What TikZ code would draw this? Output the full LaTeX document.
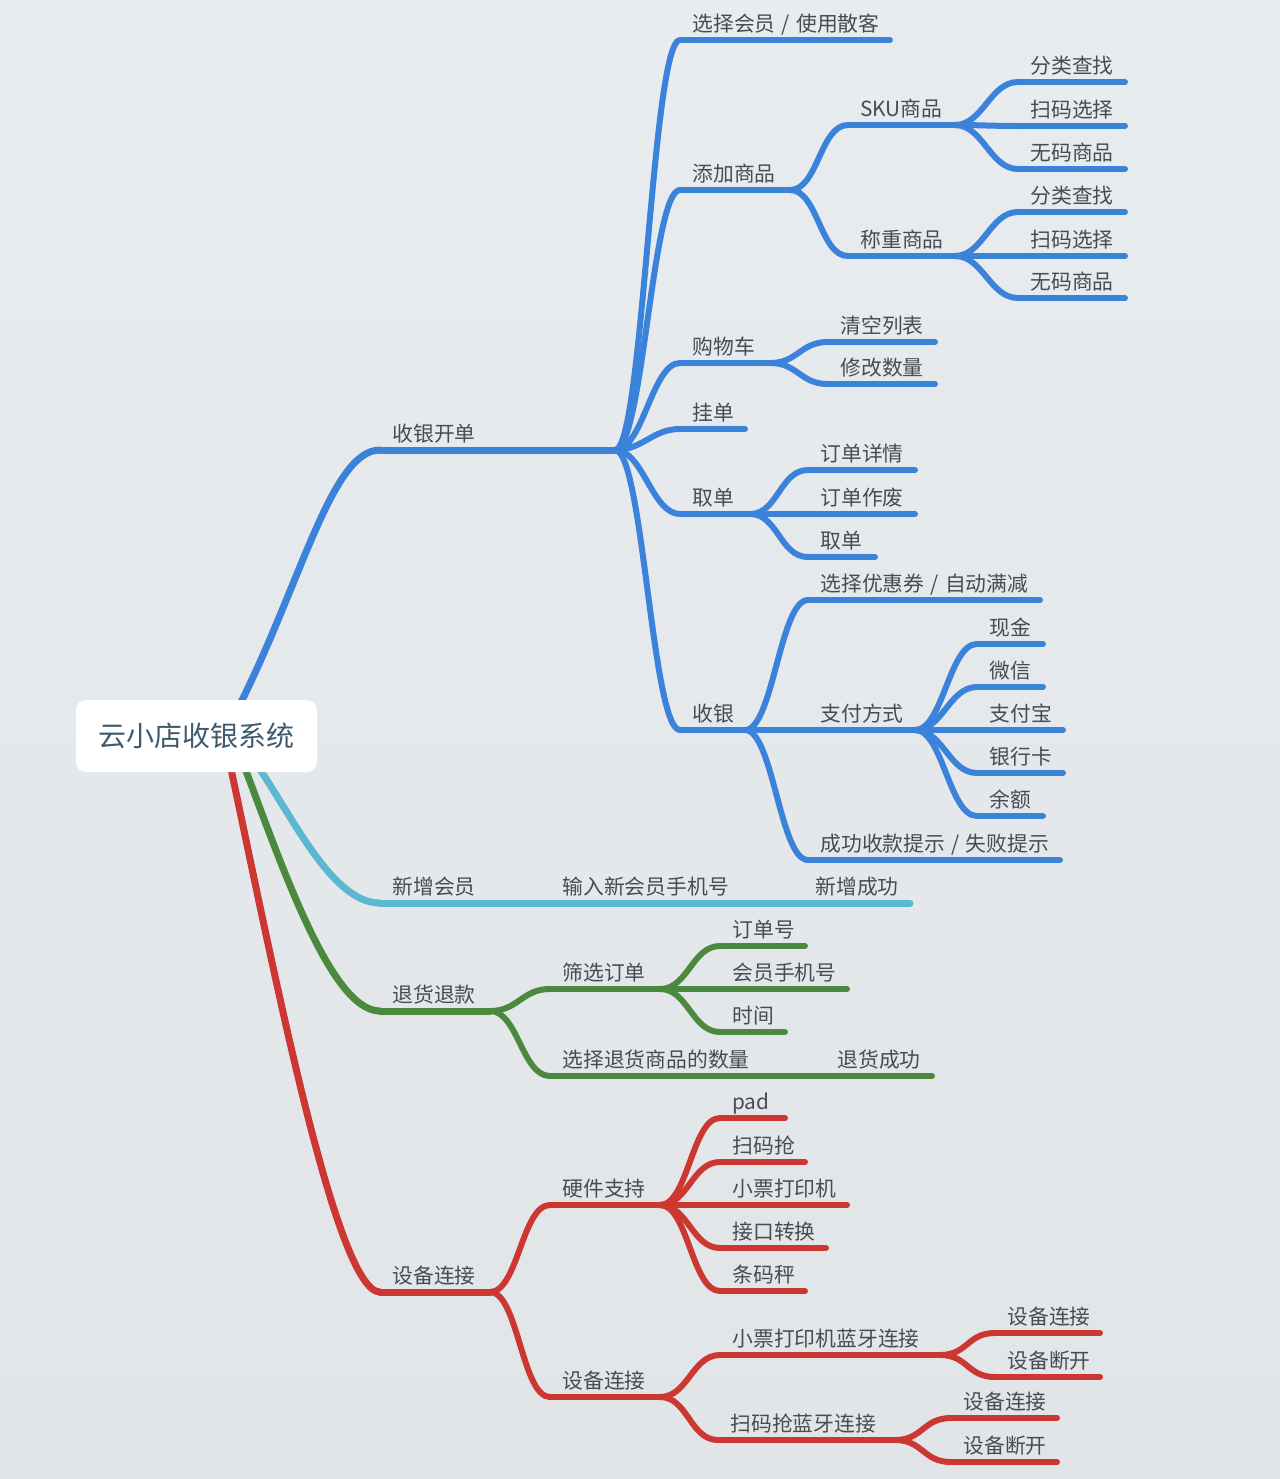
\documentclass[tikz,border=0pt]{standalone}
\usepackage{fontspec}
\setmainfont{Noto Sans CJK SC}
\usetikzlibrary{calc}
\definecolor{bgtop}{HTML}{E9ECEF}
\definecolor{bgbot}{HTML}{E2E5E8}
\definecolor{cblue}{HTML}{3B83DA}
\definecolor{clight}{HTML}{5AB8D2}
\definecolor{cgreen}{HTML}{4B8A3E}
\definecolor{cred}{HTML}{CC3732}
\definecolor{txt}{HTML}{474C52}
\definecolor{roottxt}{HTML}{3E5B6E}
\tikzset{
  lbl/.style={inner sep=0pt, text=txt, font=\fontsize{10.4}{12}\selectfont, anchor=base west},
  bl/.style={draw=cblue, line width=3pt},
  bl1/.style={draw=cblue, line width=3.5pt},
  lb1/.style={draw=clight, line width=3.5pt},
  gr/.style={draw=cgreen, line width=3pt},
  gr1/.style={draw=cgreen, line width=3.5pt},
  rd/.style={draw=cred, line width=3pt},
  rd1/.style={draw=cred, line width=3.5pt},
  rootbox/.style={fill=white, rounded corners=5pt, minimum width=120.5pt, minimum height=36pt, inner sep=0pt, text=roottxt, font=\fontsize{14}{16}\selectfont}
}
\newcommand\topic[6]{%
  \coordinate (#1s) at (#2,#4);
  \coordinate (#1e) at (#3,#4);
  \draw[#6] (#1s) -- (#1e);
  \node[lbl] (#1) at ($(#1s)+(12,-9)$) {#5};}
\newcommand\link[3]{\draw[#3] (#1e) .. controls +(28,0) and +(-28,0) .. (#2s);}
\newcommand\myslash{\hspace{0.3em}/\hspace{0.3em}}
\begin{document}
\begin{tikzpicture}[x=0.5pt,y=-0.5pt,line cap=round,line join=round]
\shade[top color=bgtop, bottom color=bgbot] (0,0) rectangle (1280,1479);
\useasboundingbox (0,0) rectangle (1280,1479);

% root connector starts
\coordinate (R1) at (232,720);
\coordinate (R2) at (250,755);
\coordinate (R3) at (240,755);
\coordinate (R4) at (228,755);

% level 1
\topic{A}{380}{615}{450}{收银开单}{bl1}
\topic{B}{380}{550}{903}{新增会员}{lb1}
\topic{B2}{550}{803}{903}{输入新会员手机号}{lb1}
\topic{B3}{803}{910}{903}{新增成功}{lb1}
\topic{C}{380}{490}{1011}{退货退款}{gr1}
\topic{D}{380}{490}{1292}{设备连接}{rd1}

\draw[bl1] (R1) .. controls (300,590) and (330,450) .. (As);
\draw[lb1] (R2) .. controls (290,810) and (330,903) .. (Bs);
\draw[gr1] (R3) .. controls (280,860) and (330,1011) .. (Cs);
\draw[rd1] (R4) .. controls (270,950) and (335,1292) .. (Ds);
\draw[lb1] (Be) -- (B2s);
\draw[lb1] (B2e) -- (B3s);

% 收银开单
\topic{A1}{680}{890}{40}{选择会员\myslash 使用散客}{bl}
\topic{A2}{680}{790}{190}{添加商品}{bl}
\topic{A21}{848}{955}{125}{SKU商品}{bl}
\topic{A211}{1018}{1125}{82}{分类查找}{bl}
\topic{A212}{1018}{1125}{126}{扫码选择}{bl}
\topic{A213}{1018}{1125}{169}{无码商品}{bl}
\topic{A22}{848}{955}{256}{称重商品}{bl}
\topic{A221}{1018}{1125}{212}{分类查找}{bl}
\topic{A222}{1018}{1125}{256}{扫码选择}{bl}
\topic{A223}{1018}{1125}{298}{无码商品}{bl}
\topic{A3}{680}{770}{363}{购物车}{bl}
\topic{A31}{828}{935}{342}{清空列表}{bl}
\topic{A32}{828}{935}{384}{修改数量}{bl}
\topic{A4}{680}{745}{429}{挂单}{bl}
\topic{A5}{680}{750}{514}{取单}{bl}
\topic{A51}{808}{915}{470}{订单详情}{bl}
\topic{A52}{808}{915}{514}{订单作废}{bl}
\topic{A53}{808}{875}{557}{取单}{bl}
\topic{A6}{680}{745}{730}{收银}{bl}
\topic{A61}{808}{1040}{600}{选择优惠券\myslash 自动满减}{bl}
\topic{A62}{808}{915}{730}{支付方式}{bl}
\topic{A621}{977}{1043}{644}{现金}{bl}
\topic{A622}{977}{1043}{687}{微信}{bl}
\topic{A623}{977}{1063}{730}{支付宝}{bl}
\topic{A624}{977}{1063}{773}{银行卡}{bl}
\topic{A625}{977}{1043}{816}{余额}{bl}
\topic{A63}{808}{1060}{860}{成功收款提示\myslash 失败提示}{bl}

\link{A}{A1}{bl}\link{A}{A2}{bl}\link{A}{A3}{bl}\link{A}{A4}{bl}\link{A}{A5}{bl}\link{A}{A6}{bl}
\link{A2}{A21}{bl}\link{A2}{A22}{bl}
\link{A21}{A211}{bl}\link{A21}{A212}{bl}\link{A21}{A213}{bl}
\link{A22}{A221}{bl}\link{A22}{A222}{bl}\link{A22}{A223}{bl}
\link{A3}{A31}{bl}\link{A3}{A32}{bl}
\link{A5}{A51}{bl}\link{A5}{A52}{bl}\link{A5}{A53}{bl}
\link{A6}{A61}{bl}\link{A6}{A62}{bl}\link{A6}{A63}{bl}
\link{A62}{A621}{bl}\link{A62}{A622}{bl}\link{A62}{A623}{bl}\link{A62}{A624}{bl}\link{A62}{A625}{bl}

% 退货退款
\topic{C1}{550}{660}{989}{筛选订单}{gr}
\topic{C11}{720}{805}{946}{订单号}{gr}
\topic{C12}{720}{847}{989}{会员手机号}{gr}
\topic{C13}{720}{785}{1032}{时间}{gr}
\topic{C2}{550}{825}{1076}{选择退货商品的数量}{gr}
\topic{C21}{825}{932}{1076}{退货成功}{gr}
\link{C}{C1}{gr}\link{C}{C2}{gr}
\link{C1}{C11}{gr}\link{C1}{C12}{gr}\link{C1}{C13}{gr}
\draw[gr] (C2e) -- (C21s);

% 设备连接
\topic{D1}{550}{660}{1205}{硬件支持}{rd}
\topic{D11}{720}{785}{1118}{pad}{rd}
\topic{D12}{720}{805}{1162}{扫码抢}{rd}
\topic{D13}{720}{847}{1205}{小票打印机}{rd}
\topic{D14}{720}{826}{1248}{接口转换}{rd}
\topic{D15}{720}{805}{1291}{条码秤}{rd}
\topic{D2}{550}{660}{1397}{设备连接}{rd}
\topic{D21}{720}{940}{1355}{小票打印机蓝牙连接}{rd}
\topic{D211}{995}{1100}{1333}{设备连接}{rd}
\topic{D212}{995}{1100}{1377}{设备断开}{rd}
\topic{D22}{718}{895}{1440}{扫码抢蓝牙连接}{rd}
\topic{D221}{951}{1057}{1418}{设备连接}{rd}
\topic{D222}{951}{1057}{1462}{设备断开}{rd}
\link{D}{D1}{rd}\link{D}{D2}{rd}
\link{D1}{D11}{rd}\link{D1}{D12}{rd}\link{D1}{D13}{rd}\link{D1}{D14}{rd}\link{D1}{D15}{rd}
\link{D2}{D21}{rd}\link{D2}{D22}{rd}
\link{D21}{D211}{rd}\link{D21}{D212}{rd}
\link{D22}{D221}{rd}\link{D22}{D222}{rd}

% root
\node[rootbox] (root) at (196.5,736) {云小店收银系统};
\end{tikzpicture}
\end{document}
